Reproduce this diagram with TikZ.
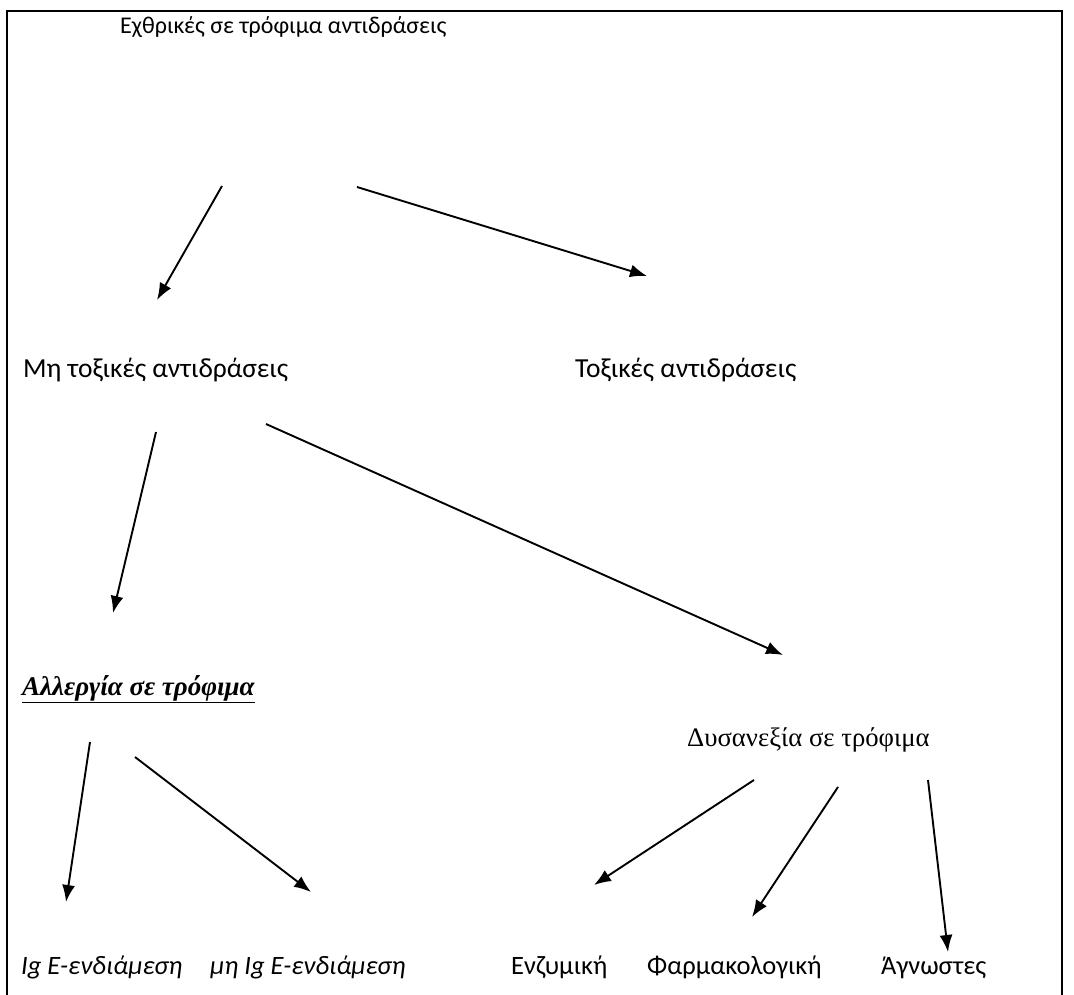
\documentclass[tikz,border=0pt]{standalone}
\usepackage{fontspec}
\newfontfamily\calib{Carlito}
\newfontfamily\tms{Liberation Serif}
\usetikzlibrary{arrows.meta}
\tikzset{
  lbl/.style={inner sep=0pt, anchor=base west},
  arr/.style={line width=1.9pt, -{Latex[length=17pt,width=13pt]}},
}
\begin{document}
\begin{tikzpicture}[x=1pt,y=-1pt]
\useasboundingbox (0,0) rectangle (1074,995);
\draw[line width=2.2pt] (7,995) -- (7,11) -- (1062,11) -- (1062,995);
\node[lbl, font=\calib\fontsize{24}{28}\selectfont] (root) at (120,34) {Εχθρικές σε τρόφιμα αντιδράσεις};
\node[lbl, font=\calib\fontsize{27.5}{32}\selectfont] (nontox) at (23,377) {Μη τοξικές αντιδράσεις};
\node[lbl, font=\calib\fontsize{27.5}{32}\selectfont] (tox) at (575,377) {Τοξικές αντιδράσεις};
\node[lbl, font=\tms\bfseries\itshape\fontsize{27}{32}\selectfont] (allergy) at (22,695) {\underline{Αλλεργία σε τρόφιμα}};
\node[lbl, font=\tms\fontsize{26.7}{32}\selectfont] (intol) at (687,746) {Δυσανεξία σε τρόφιμα};
\node[lbl, font=\calib\itshape\fontsize{26.5}{32}\selectfont] (ige) at (21,974) {Ig E-ενδιάμεση};
\node[lbl, font=\calib\itshape\fontsize{26.5}{32}\selectfont] (nige) at (210,974) {μη Ig E-ενδιάμεση};
\node[lbl, font=\calib\fontsize{26.5}{32}\selectfont] (enz) at (511,974) {Ενζυμική};
\node[lbl, font=\calib\fontsize{26.5}{32}\selectfont] (pharm) at (647,974) {Φαρμακολογική};
\node[lbl, font=\calib\fontsize{26.5}{32}\selectfont] (unk) at (881,974) {Άγνωστες};
\coordinate (a1s) at (222,186); \coordinate (a1e) at (157,300);
\coordinate (a2s) at (357,187); \coordinate (a2e) at (647,276);
\coordinate (a3s) at (156,432); \coordinate (a3e) at (113,613);
\coordinate (a4s) at (266,424); \coordinate (a4e) at (783,655);
\coordinate (a5s) at (90,742); \coordinate (a5e) at (66,902);
\coordinate (a6s) at (135,757); \coordinate (a6e) at (311,892);
\coordinate (a7s) at (754,780); \coordinate (a7e) at (594,885);
\coordinate (a8s) at (838,787); \coordinate (a8e) at (752,917);
\coordinate (a9s) at (928,780); \coordinate (a9e) at (948,952);
\foreach \i in {1,...,9} \draw[arr] (a\i s) -- (a\i e);
\end{tikzpicture}
\end{document}
